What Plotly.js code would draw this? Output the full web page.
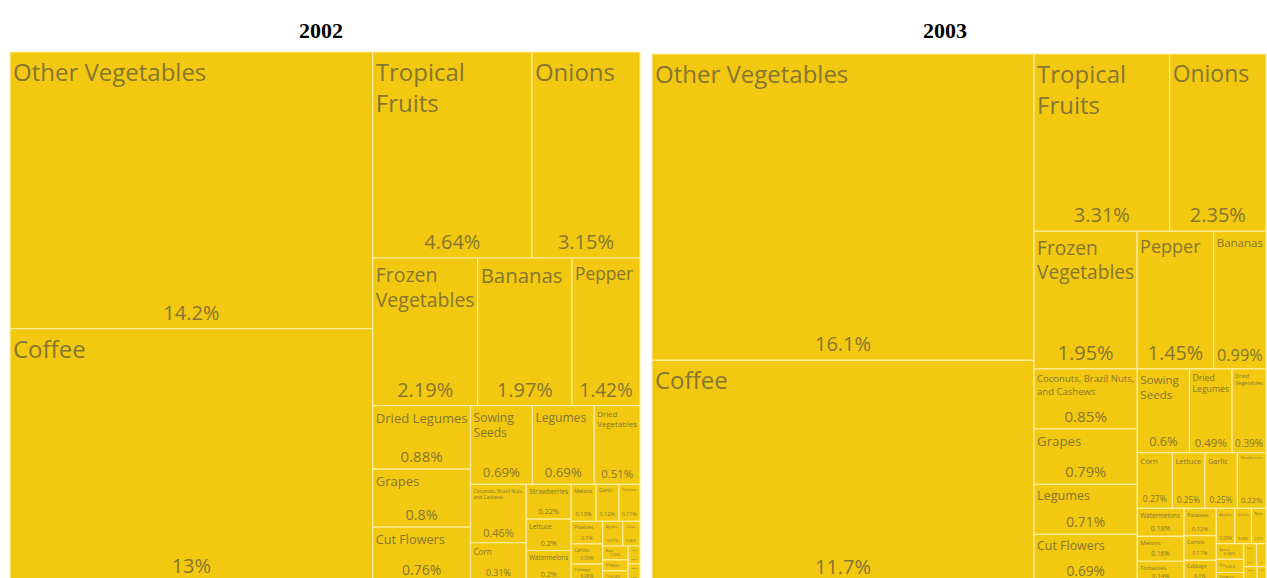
<!DOCTYPE html>
<html>
<head>
<meta charset="utf-8">
<script src="https://cdn.plot.ly/plotly-3.0.1.min.js"></script>
<style>
  html, body { margin: 0; padding: 0; background: #fff; overflow: hidden; }
  #chart { width: 1267px; height: 600px; }
</style>
</head>
<body>
<div id="chart"></div>
<script>
// shares of total exports, %
const names2002 = ["Other Vegetables", "Coffee", "Tropical Fruits", "Onions", "Frozen Vegetables", "Bananas", "Pepper",
  "Dried Legumes", "Grapes", "Cut Flowers", "Sowing Seeds", "Legumes", "Dried Vegetables",
  "Coconuts, Brazil Nuts, and Cashews", "Corn", "Strawberries", "Lettuce", "Watermelons",
  "Melons", "Garlic", "Tomatoes", "Potatoes", "Carrots", "Cabbage", "Apples", "Citrus",
  "Nuts", "Spices", "Tea", "Cocoa", "Ginger"];
const text2002 = ["Other Vegetables", "Coffee", "Tropical<br>Fruits", "Onions", "Frozen<br>Vegetables", "Bananas", "Pepper",
  "Dried Legumes", "Grapes", "Cut Flowers", "Sowing<br>Seeds", "Legumes", "Dried<br>Vegetables",
  "Coconuts, Brazil Nuts,<br>and Cashews", "Corn", "Strawberries", "Lettuce", "Watermelons",
  "Melons", "Garlic", "Tomatoes", "Potatoes", "Carrots", "Cabbage", "Apples", "Citrus",
  "Nuts", "Spices", "Tea", "Cocoa", "Ginger"];
const values2002 = [14.2, 13, 4.64, 3.15, 2.19, 1.97, 1.42,
  0.88, 0.8, 0.76, 0.69, 0.69, 0.51,
  0.46, 0.31, 0.22, 0.2, 0.2,
  0.13, 0.12, 0.11, 0.1, 0.09, 0.08, 0.07, 0.06,
  0.05, 0.04, 0.04, 0.03, 0.03];

const names2003 = ["Other Vegetables", "Coffee", "Tropical Fruits", "Onions", "Frozen Vegetables", "Pepper", "Bananas",
  "Coconuts, Brazil Nuts, and Cashews", "Grapes", "Legumes", "Cut Flowers", "Sowing Seeds", "Dried Legumes", "Dried Vegetables",
  "Corn", "Lettuce", "Garlic", "Strawberries", "Watermelons", "Melons", "Tomatoes", "Potatoes", "Carrots",
  "Cabbage", "Apples", "Citrus", "Nuts", "Spices", "Tea", "Cocoa", "Ginger", "Mushrooms", "Asparagus", "Olives"];
const text2003 = ["Other Vegetables", "Coffee", "Tropical<br>Fruits", "Onions", "Frozen<br>Vegetables", "Pepper", "Bananas",
  "Coconuts, Brazil Nuts,<br>and Cashews", "Grapes", "Legumes", "Cut Flowers", "Sowing<br>Seeds", "Dried<br>Legumes", "Dried<br>Vegetables",
  "Corn", "Lettuce", "Garlic", "Strawberries", "Watermelons", "Melons", "Tomatoes", "Potatoes", "Carrots",
  "Cabbage", "Apples", "Citrus", "Nuts", "Spices", "Tea", "Cocoa", "Ginger", "Mushrooms", "Asparagus", "Olives"];
const values2003 = [16.1, 11.7, 3.31, 2.35, 1.95, 1.45, 0.99,
  0.85, 0.79, 0.71, 0.69, 0.6, 0.49, 0.39,
  0.27, 0.25, 0.25, 0.22, 0.18, 0.16, 0.14, 0.12, 0.11,
  0.1, 0.09, 0.08, 0.07, 0.06, 0.05, 0.04, 0.04, 0.03, 0.03, 0.02];

const years = ["2002", "2003"];

const W = 1267, H = 600;
const yellow = "#F2C811";
const labelColor = "#867632";
const font = "Open Sans, Noto Sans, sans-serif";
const domains = [
  { x: [10 / W, 640 / W], y: [(H - 582) / H, (H - 52) / H] },
  { x: [652 / W, 1266 / W], y: [(H - 583) / H, (H - 54) / H] }
];
const noPad = { t: 0, l: 0, r: 0, b: 0 };

// text gets smaller with the block, like the original report
function sizes(values, k, max) {
  const total = values.reduce((a, b) => a + b, 0);
  return values.map(v => Math.min(max, k * Math.sqrt(v / total)));
}

function tiles(names, text, values, domain) {
  const common = {
    type: "treemap",
    labels: names,
    parents: names.map(() => ""),
    values: values,
    domain: domain,
    sort: true,
    tiling: { packing: "squarify", squarifyratio: 1.618, pad: 0 },
    pathbar: { visible: false },
    root: { color: "rgba(0,0,0,0)" },
    hoverinfo: "skip"
  };
  // blocks with the category name at top left
  const named = Object.assign({}, common, {
    text: text,
    texttemplate: "%{text}",
    textposition: "top left",
    textfont: { family: font, size: sizes(values, 100, 24), color: labelColor },
    marker: { colors: names.map(() => yellow), pad: noPad, line: { color: "rgba(255,238,160,0.95)", width: 1.2 } }
  });
  // same blocks again, transparent, with the share at bottom centre
  const shares = Object.assign({}, common, {
    texttemplate: "%{value:.3~g}%",
    textposition: "bottom center",
    textfont: { family: font, size: sizes(values, 110, 20), color: labelColor },
    marker: { colors: names.map(() => "rgba(0,0,0,0)"), pad: noPad, line: { width: 0 } }
  });
  return [named, shares];
}

const data = [
  ...tiles(names2002, text2002, values2002, domains[0]),
  ...tiles(names2003, text2003, values2003, domains[1])
];

const layout = {
  width: W,
  height: H,
  margin: { l: 0, r: 0, t: 0, b: 0 },
  paper_bgcolor: "#fff",
  showlegend: false,
  annotations: [
    { text: "<b>" + years[0] + "</b>", x: 321 / W, y: 1 - 31 / H },
    { text: "<b>" + years[1] + "</b>", x: 945 / W, y: 1 - 31 / H }
  ].map(a => Object.assign(a, {
    xref: "paper", yref: "paper", showarrow: false, xanchor: "center", yanchor: "middle",
    font: { family: "Liberation Serif, Times New Roman, serif", size: 22, color: "#000" }
  }))
};

Plotly.newPlot("chart", data, layout, { displayModeBar: false, staticPlot: true });
</script>
</body>
</html>
